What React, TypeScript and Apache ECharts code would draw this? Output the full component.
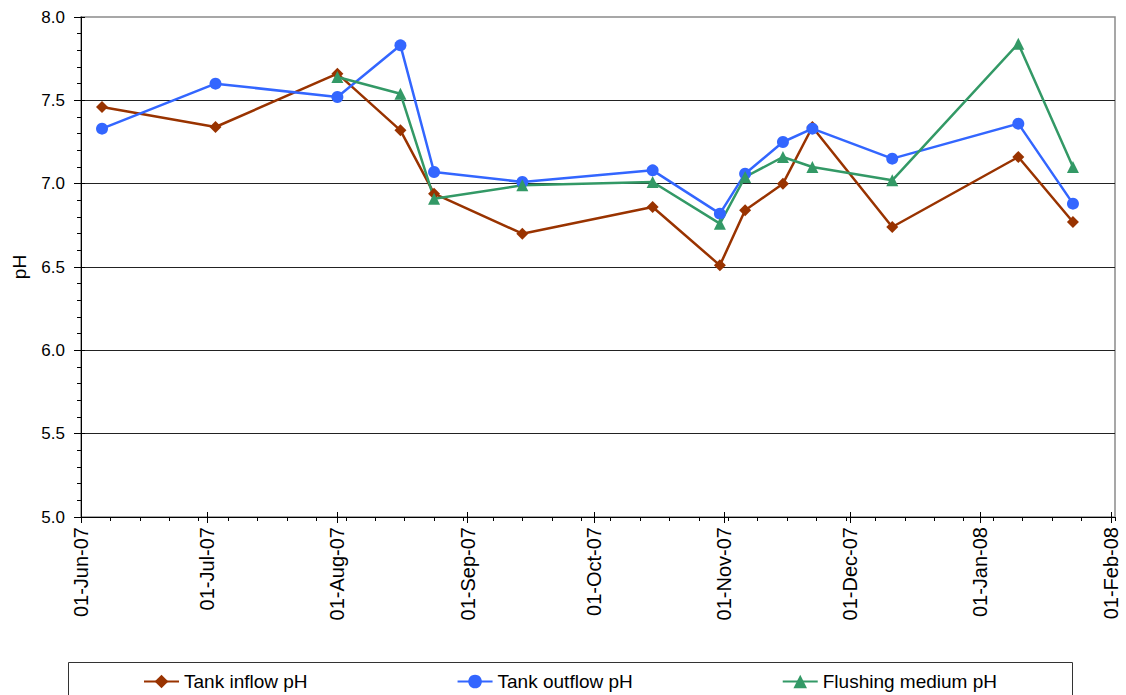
import React, { useEffect, useRef } from "react";
import * as echarts from "echarts";

// Sampling dates and pH readings
const sampleDates = [
  "2007-06-06", "2007-07-03", "2007-08-01", "2007-08-16", "2007-08-24",
  "2007-09-14", "2007-10-15", "2007-10-31", "2007-11-06", "2007-11-15",
  "2007-11-22", "2007-12-11", "2008-01-10", "2008-01-23",
];
const tankInflowPH = [7.46, 7.34, 7.66, 7.32, 6.94, 6.70, 6.86, 6.51, 6.84, 7.00, 7.34, 6.74, 7.16, 6.77];
const tankOutflowPH = [7.33, 7.60, 7.52, 7.83, 7.07, 7.01, 7.08, 6.82, 7.06, 7.25, 7.33, 7.15, 7.36, 6.88];
const flushingMediumPH = [null, null, 7.64, 7.54, 6.91, 6.99, 7.01, 6.76, 7.04, 7.16, 7.10, 7.02, 7.84, 7.10];

// Axis ticks
const monthTicks = [
  "2007-06-01", "2007-07-01", "2007-08-01", "2007-09-01", "2007-10-01",
  "2007-11-01", "2007-12-01", "2008-01-01", "2008-02-01",
];
const axisStart = "2007-06-01";
const axisEnd = "2008-02-02";
const yMin = 5.0;
const yMax = 8.0;
const yStep = 0.5;
const minorTickDays = 7;

const monthNames = ["Jan", "Feb", "Mar", "Apr", "May", "Jun", "Jul", "Aug", "Sep", "Oct", "Nov", "Dec"];

function parseUTC(s: string): number {
  const [y, m, d] = s.split("-").map(Number);
  return Date.UTC(y, m - 1, d);
}

function fmtDate(v: number): string {
  const d = new Date(v);
  const dd = String(d.getUTCDate()).padStart(2, "0");
  const yy = String(d.getUTCFullYear() % 100).padStart(2, "0");
  return `${dd}-${monthNames[d.getUTCMonth()]}-${yy}`;
}

const FONT = "'Liberation Sans', Arial, sans-serif";

export default function App() {
  const ref = useRef<HTMLDivElement>(null);

  useEffect(() => {
    document.body.style.margin = "0";
    if (!ref.current) return;
    const chart = echarts.init(ref.current, undefined, { renderer: "svg" });

    const startMs = parseUTC(axisStart);
    const endMs = parseUTC(axisEnd);
    const spanDays = Math.round((endMs - startMs) / 86400000);
    const monthMs = monthTicks.map(parseUTC);
    const dateMs = sampleDates.map(parseUTC);

    const mk = (vals: (number | null)[]) => vals.map((v, i) => [dateMs[i], v]);

    const option: any = {
      animation: false,
      backgroundColor: "#ffffff",
      textStyle: { fontFamily: FONT },
      grid: {
        left: 81,
        top: 17,
        right: 11,
        bottom: 178,
        show: true,
        borderColor: "#8a8a8a",
        borderWidth: 1.5,
        backgroundColor: "transparent",
      },
      xAxis: [
        {
          type: "value",
          min: startMs,
          max: endMs,
          position: "bottom",
          axisLine: { show: true, onZero: false, lineStyle: { color: "#000", width: 1 } },
          axisTick: { show: true, customValues: monthMs, length: 6, lineStyle: { color: "#000" } },
          axisLabel: {
            show: true,
            customValues: monthMs,
            rotate: 90,
            margin: 10,
            fontSize: 20,
            color: "#000",
            fontFamily: FONT,
            padding: [0, 0, 3, 0],
            formatter: (v: number) => fmtDate(v),
          },
          splitLine: { show: false },
        },
        {
          type: "value",
          min: 0,
          max: spanDays,
          interval: minorTickDays,
          position: "bottom",
          axisLine: { show: false },
          axisTick: { show: true, length: 4, lineStyle: { color: "#000" } },
          axisLabel: { show: false },
          splitLine: { show: false },
        },
        {
          type: "value",
          min: startMs,
          max: endMs,
          position: "bottom",
          axisLine: { show: false },
          axisTick: { show: true, inside: true, customValues: monthMs, length: 5, lineStyle: { color: "#000" } },
          axisLabel: { show: false },
          splitLine: { show: false },
        },
      ],
      yAxis: [
        {
          type: "value",
          min: yMin,
          max: yMax,
          interval: yStep,
          name: "pH",
          nameLocation: "middle",
          nameGap: 52,
          nameRotate: 90,
          nameTextStyle: { fontSize: 19, color: "#000", fontFamily: FONT },
          axisLine: { show: true, lineStyle: { color: "#000", width: 1 } },
          axisTick: { show: true, length: 7, lineStyle: { color: "#000" } },
          minorTick: { show: true, splitNumber: 5, length: 4, lineStyle: { color: "#000" } },
          axisLabel: {
            fontSize: 17,
            color: "#000",
            margin: 16,
            fontFamily: FONT,
            formatter: (v: number) => v.toFixed(1),
          },
          splitLine: { show: true, showMaxLine: false, lineStyle: { color: "#222", width: 1 } },
        },
        {
          type: "value",
          min: yMin,
          max: yMax,
          interval: yStep,
          position: "left",
          axisLine: { show: false },
          axisTick: { show: true, inside: true, length: 4, lineStyle: { color: "#000" } },
          axisLabel: { show: false },
          splitLine: { show: false },
        },
      ],
      legend: {
        left: 143,
        top: 672,
        padding: 0,
        itemGap: 149,
        itemWidth: 35,
        itemHeight: 17,
        textStyle: { fontSize: 19, color: "#000", fontFamily: FONT },
        data: ["Tank inflow pH", "Tank outflow pH", "Flushing medium pH"],
      },
      graphic: [
        {
          type: "rect",
          shape: { x: 68.5, y: 662.5, width: 1004, height: 60 },
          style: { fill: "none", stroke: "#333", lineWidth: 1 },
          silent: true,
        },
      ],
      series: [
        {
          name: "Tank inflow pH",
          type: "line",
          data: mk(tankInflowPH),
          symbol: "diamond",
          symbolSize: 12,
          color: "#993300",
          lineStyle: { width: 2.5, color: "#993300" },
          itemStyle: { color: "#993300" },
        },
        {
          name: "Tank outflow pH",
          type: "line",
          data: mk(tankOutflowPH),
          symbol: "circle",
          symbolSize: 12,
          color: "#3366FF",
          lineStyle: { width: 2.5, color: "#3366FF" },
          itemStyle: { color: "#3366FF" },
        },
        {
          name: "Flushing medium pH",
          type: "line",
          data: mk(flushingMediumPH),
          symbol: "triangle",
          symbolSize: 12,
          color: "#339966",
          lineStyle: { width: 2.5, color: "#339966" },
          itemStyle: { color: "#339966" },
        },
      ],
    };

    chart.setOption(option);
    return () => chart.dispose();
  }, []);

  return <div ref={ref} style={{ width: 1126, height: 695 }} />;
}
